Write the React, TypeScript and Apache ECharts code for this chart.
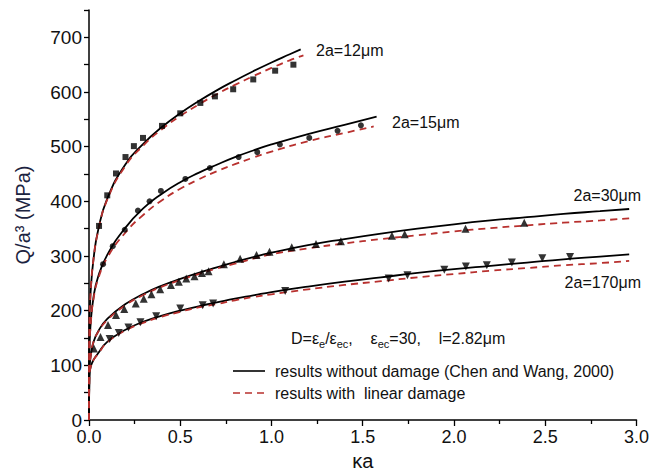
import React, { useEffect, useRef } from 'react';
import * as echarts from 'echarts';

// ---- data ----
const xTicks = [0, 0.5, 1.0, 1.5, 2.0, 2.5, 3.0];
const yTicks = [0, 100, 200, 300, 400, 500, 600, 700];

const black12: [number, number][] = [[0,0],[0.002,170],[0.01,240],[0.025,295],[0.05,347],[0.1,405],[0.2,468],[0.3,506],[0.4,536],[0.5,561],[0.6,583],[0.7,603],[0.8,621],[0.9,638],[1.0,654],[1.1,669],[1.16,678]];
const red12: [number, number][] = [[0,0],[0.002,170],[0.01,240],[0.025,295],[0.05,345],[0.1,403],[0.2,465],[0.3,503],[0.4,532],[0.5,556],[0.6,577],[0.7,596],[0.8,613],[0.9,629],[1.0,644],[1.1,658],[1.175,667]];
const squares12: [number, number][] = [[0.055,355],[0.1,411],[0.148,451],[0.2,481],[0.246,501],[0.296,516],[0.4,538],[0.5,561],[0.61,580],[0.69,592],[0.79,605],[0.9,623],[1.02,639],[1.12,650]];

const black15: [number, number][] = [[0,0],[0.002,125],[0.01,180],[0.025,225],[0.05,262],[0.1,302],[0.2,352],[0.3,388],[0.4,414],[0.5,435],[0.6,452],[0.7,467],[0.8,481],[0.9,493],[1.0,504],[1.2,523],[1.4,540],[1.576,555]];
const red15: [number, number][] = [[0,0],[0.002,125],[0.01,178],[0.025,222],[0.05,258],[0.1,297],[0.2,343],[0.3,376],[0.4,402],[0.5,423],[0.6,440],[0.7,455],[0.8,468],[0.9,480],[1.0,491],[1.2,510],[1.4,525],[1.56,537]];
const circles15: [number, number][] = [[0.077,285],[0.13,318],[0.196,348],[0.268,383],[0.332,400],[0.394,419],[0.528,441],[0.662,461],[0.82,481],[0.922,490],[1.046,504],[1.207,516],[1.362,529],[1.49,539]];

const black30: [number, number][] = [[0,0],[0.002,90],[0.01,118],[0.025,143],[0.05,162],[0.1,185],[0.2,212],[0.3,231],[0.4,246],[0.5,258],[0.6,269],[0.7,279],[0.8,289],[0.9,298],[1.0,306],[1.2,320],[1.4,331],[1.6,341],[1.8,350],[2.0,358],[2.2,365],[2.4,371],[2.6,377],[2.8,382],[2.96,386]];
const red30: [number, number][] = [[0,0],[0.002,90],[0.01,118],[0.025,143],[0.05,161],[0.1,183],[0.2,210],[0.3,229],[0.4,244],[0.5,256],[0.6,267],[0.7,277],[0.8,286],[0.9,295],[1.0,303],[1.2,314],[1.4,323],[1.6,331],[1.8,338],[2.0,345],[2.2,351],[2.4,356],[2.6,361],[2.8,365],[2.96,369]];
const triangles30: [number, number][] = [[0.027,131],[0.063,152],[0.104,174],[0.148,192],[0.193,203],[0.256,213],[0.3,222],[0.342,230],[0.39,239],[0.449,247],[0.492,253],[0.533,259],[0.578,263],[0.619,269],[0.655,272],[0.739,285],[0.828,295],[0.918,302],[0.989,308],[1.111,316],[1.244,322],[1.38,327],[1.66,337],[1.73,340],[2.063,350],[2.385,361]];

const black170: [number, number][] = [[0,0],[0.002,80],[0.01,98],[0.025,110],[0.05,122],[0.1,143],[0.2,165],[0.3,180],[0.4,191],[0.5,200],[0.6,208],[0.7,215],[0.8,222],[0.9,228],[1.0,234],[1.2,244],[1.4,253],[1.6,261],[1.8,269],[2.0,276],[2.2,282],[2.4,288],[2.6,294],[2.8,299],[2.96,303]];
const red170: [number, number][] = [[0,0],[0.002,80],[0.01,98],[0.025,110],[0.05,121],[0.1,142],[0.2,164],[0.3,178],[0.4,189],[0.5,198],[0.6,206],[0.7,212],[0.8,219],[0.9,225],[1.0,230],[1.2,239],[1.4,247],[1.6,254],[1.8,261],[2.0,267],[2.2,273],[2.4,278],[2.6,283],[2.8,287],[2.96,291]];
const downTriangles170: [number, number][] = [[0.113,148],[0.163,159],[0.216,169],[0.282,179],[0.368,190],[0.5,204],[0.623,210],[0.68,213],[1.075,236],[1.642,259],[1.745,265],[1.947,275],[2.065,281],[2.18,283],[2.317,288],[2.484,296],[2.636,298]];

const curveLabels = ['2a=12\u03bcm', '2a=15\u03bcm', '2a=30\u03bcm', '2a=170\u03bcm'];
const legendLabels = ['results without damage (Chen and Wang, 2000)', 'results with  linear damage'];

const FONT = '"Liberation Sans", Arial, Helvetica, sans-serif';
const RED = '#b8302e';

function solid(data: [number, number][]) {
  return {
    type: 'line', data, showSymbol: false, smooth: 0.5, clip: true,
    lineStyle: { color: '#000', width: 1.8 }, z: 3,
  };
}
function dashed(data: [number, number][]) {
  return {
    type: 'line', data, showSymbol: false, smooth: 0.5, clip: true,
    lineStyle: { color: RED, width: 1.8, type: [7, 5] }, z: 4,
  };
}
function dots(data: [number, number][], symbol: string, size: number, rotate = 0) {
  return {
    type: 'scatter', data, symbol, symbolSize: size, symbolRotate: rotate,
    itemStyle: { color: '#000' }, z: 5,
  };
}

export default function App() {
  const ref = useRef<HTMLDivElement>(null);
  useEffect(() => {
    const chart = echarts.init(ref.current!, null, { renderer: 'svg' });
    const option: any = {
      animation: false,
      backgroundColor: '#fff',
      textStyle: { fontFamily: FONT },
      grid: { left: 89, right: 4, top: 10, bottom: 56, containLabel: false },
      xAxis: {
        type: 'value', min: 0, max: 3, interval: 0.5,
        name: '\u03baa', nameLocation: 'middle', nameGap: 30,
        nameTextStyle: { fontSize: 20, color: '#111', fontFamily: FONT },
        axisLine: { lineStyle: { color: '#000', width: 1.5 } },
        axisTick: { show: true, inside: false, length: 6, lineStyle: { color: '#000', width: 1.3 } },
        minorTick: { show: true, splitNumber: 2, length: 4, lineStyle: { color: '#000', width: 1.3 } },
        splitLine: { show: false },
        axisLabel: {
          fontSize: 18, color: '#111', margin: 8, fontFamily: FONT,
          formatter: (v: number) => (xTicks.includes(v) ? v.toFixed(1) : ''),
        },
      },
      yAxis: {
        type: 'value', min: 0, max: 750, interval: 50,
        name: 'Q/a\u00b3 (MPa)', nameLocation: 'middle', nameGap: 56, nameRotate: 90,
        nameTextStyle: { fontSize: 20, color: '#1c2340', fontFamily: FONT },
        axisLine: { lineStyle: { color: '#000', width: 1.5 } },
        axisTick: { show: true, inside: false, length: 5, lineStyle: { color: '#000', width: 1.3 } },
        splitLine: { show: false },
        axisLabel: {
          fontSize: 19, color: '#111', margin: 7, fontFamily: FONT,
          formatter: (v: number) => (yTicks.includes(v) ? String(v) : ''),
        },
      },
      series: [
        solid(black12), dashed(red12), dots(squares12, 'rect', 6),
        solid(black15), dashed(red15), dots(circles15, 'circle', 6),
        solid(black30), dashed(red30), dots(triangles30, 'triangle', 8),
        solid(black170), dashed(red170), dots(downTriangles170, 'triangle', 8, 180),
      ],
      graphic: [
        { type: 'text', x: 316, y: 50, style: { text: curveLabels[0], fontSize: 16, fontFamily: FONT, fill: '#111', verticalAlign: 'middle', align: 'left' } },
        { type: 'text', x: 392, y: 122, style: { text: curveLabels[1], fontSize: 16, fontFamily: FONT, fill: '#111', verticalAlign: 'middle', align: 'left' } },
        { type: 'text', x: 641, y: 195, style: { text: curveLabels[2], fontSize: 16, fontFamily: FONT, fill: '#111', verticalAlign: 'middle', align: 'right' } },
        { type: 'text', x: 641, y: 282, style: { text: curveLabels[3], fontSize: 16, fontFamily: FONT, fill: '#111', verticalAlign: 'middle', align: 'right' } },
        {
          type: 'text', x: 291, y: 338,
          style: {
            text: '{b|D=\u03b5}{s|e}{b|/\u03b5}{s|ec}{b|,    \u03b5}{s|ec}{b|=30,    l=2.82\u03bcm}',
            verticalAlign: 'middle', align: 'left', fill: '#111',
            rich: {
              b: { fontSize: 16, fontFamily: FONT, lineHeight: 22, fill: '#111' },
              s: { fontSize: 11, fontFamily: FONT, lineHeight: 12, verticalAlign: 'bottom', fill: '#111' },
            },
          },
        },
        { type: 'line', shape: { x1: 233, y1: 371, x2: 265, y2: 371 }, style: { stroke: '#000', lineWidth: 1.6 } },
        { type: 'line', shape: { x1: 233, y1: 393, x2: 265, y2: 393 }, style: { stroke: RED, lineWidth: 1.6, lineDash: [7, 5] } },
        { type: 'text', x: 275, y: 371, style: { text: legendLabels[0], fontSize: 16, fontFamily: FONT, fill: '#111', verticalAlign: 'middle', align: 'left' } },
        { type: 'text', x: 275, y: 393, style: { text: legendLabels[1], fontSize: 16, fontFamily: FONT, fill: '#111', verticalAlign: 'middle', align: 'left' } },
      ],
    };
    chart.setOption(option);
    return () => chart.dispose();
  }, []);
  return <div ref={ref} style={{ position: 'fixed', left: 0, top: 0, width: 652, height: 476 }} />;
}
